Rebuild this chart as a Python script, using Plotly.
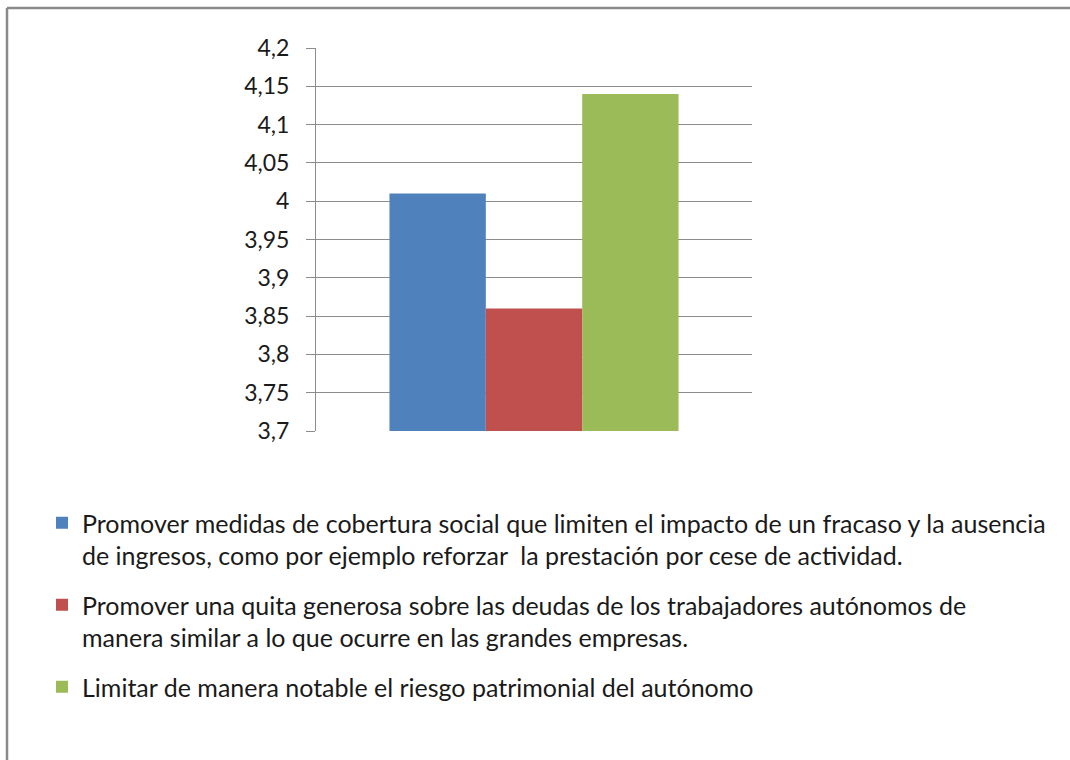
import plotly.graph_objects as go

# ---- data ----
categories = [""]
series_names = [
    "Promover medidas de cobertura social que limiten el impacto de un fracaso y la ausencia<br>de ingresos, como por ejemplo reforzar  la prestación por cese de actividad.",
    "Promover una quita generosa sobre las deudas de los trabajadores autónomos de<br>manera similar a lo que ocurre en las grandes empresas.",
    "Limitar de manera notable el riesgo patrimonial del autónomo",
]
series_values = [[4.01], [3.86], [4.14]]
series_colors = ["#4F81BD", "#C0504D", "#9BBB59"]
y_range = [3.7, 4.2]
y_dtick = 0.05

# ---- layout geometry (pixels) ----
W, H = 1070, 760
L, R, T, B = 316, 1070 - 752, 48, 760 - 431
pw, ph = W - L - R, H - T - B

def px_x(x):
    return (x - L) / pw

def px_y(y):
    return (H - B - y) / ph

FONT = "Lato"
fig = go.Figure()
for i, (name, vals, col) in enumerate(zip(series_names, series_values, series_colors)):
    fig.add_trace(go.Bar(
        x=categories, y=vals, name=name,
        marker=dict(color=col, line=dict(width=0)),
        legendgroup=f"g{i}",
    ))

fig.update_layout(
    width=W, height=H,
    margin=dict(l=L, r=R, t=T, b=B, pad=0),
    paper_bgcolor="white", plot_bgcolor="white",
    barmode="group", bargap=0.337, bargroupgap=0,
    separators=",.",
    font=dict(family=FONT, size=25, color="#1a1a1a"),
    showlegend=True,
    legend=dict(
        x=px_x(42), y=px_y(500), xanchor="left", yanchor="top",
        orientation="v", traceorder="grouped", tracegroupgap=14,
        valign="top",
        font=dict(family=FONT, size=25, color="#1a1a1a"),
        bgcolor="rgba(0,0,0,0)",
    ),
    xaxis=dict(
        showgrid=False, showticklabels=False, ticks="",
        showline=False, zeroline=False,
    ),
    yaxis=dict(
        range=y_range, dtick=y_dtick, tick0=y_range[0],
        showgrid=True, gridcolor="#8c8c8c", gridwidth=1,
        showline=True, linecolor="#8c8c8c", linewidth=1,
        ticks="outside", ticklen=9, tickcolor="#8c8c8c", tickwidth=1,
        ticklabelstandoff=12,
        tickfont=dict(family=FONT, size=23, color="#1a1a1a"),
        zeroline=False,
    ),
    shapes=[
        dict(type="line", xref="paper", yref="paper",
             x0=px_x(7), x1=px_x(W + 5), y0=px_y(8), y1=px_y(8),
             line=dict(color="#8a8a8a", width=2.5)),
        dict(type="line", xref="paper", yref="paper",
             x0=px_x(7), x1=px_x(7), y0=px_y(8), y1=px_y(H + 5),
             line=dict(color="#8a8a8a", width=2.5)),
    ],
)

fig.write_html(
    "out.html",
    config={"displayModeBar": False},
    post_script="document.body.style.margin='0';document.body.style.overflow='hidden';",
)
